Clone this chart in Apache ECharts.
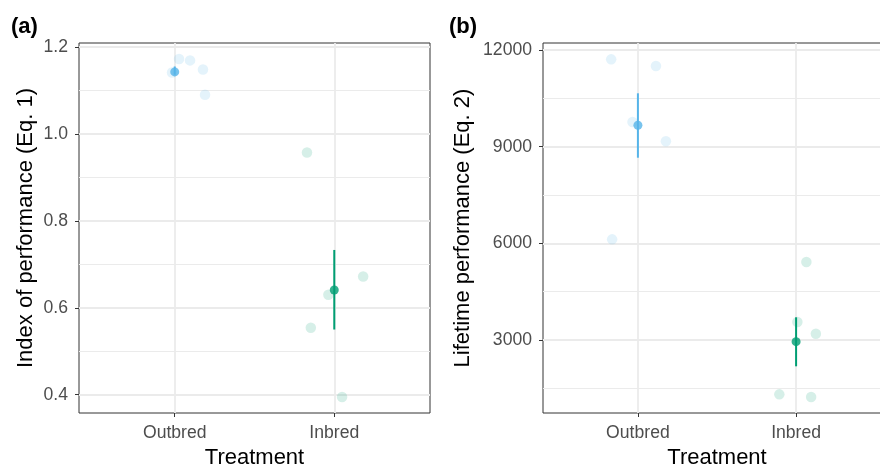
<!DOCTYPE html>
<html><head><meta charset="utf-8">
<script src="https://cdn.jsdelivr.net/npm/echarts@6/dist/echarts.min.js"></script>
<style>html,body{margin:0;padding:0;background:#fff}#c{width:880px;height:468px}</style>
</head><body><div id="c"></div>
<script>
// ---- data ----
const categories = ['Outbred', 'Inbred'];
const categoryPos = [1, 2];
const xRange = [0.4, 2.6];
const groupColors = ['#56B4E9', '#009E73'];
const rawColors = ['rgba(86,180,233,0.2)', 'rgba(0,158,115,0.2)'];

// Panel (a): Index of performance (Eq. 1)
const outbredXA = [0.983, 1.027, 1.096, 1.177, 1.190];
const outbredYA = [1.141, 1.172, 1.169, 1.148, 1.090];
const inbredXA = [1.829, 1.963, 1.853, 2.181, 2.049];
const inbredYA = [0.957, 0.630, 0.554, 0.672, 0.395];
const meanA = [1.1425, 0.641];
const lowA = [1.136, 0.550];
const highA = [1.155, 0.733];
const yTicksA = [0.4, 0.6, 0.8, 1.0, 1.2];
const yMinorA = [0.5, 0.7, 0.9, 1.1];
const yRangeA = [0.358, 1.209];

// Panel (b): Lifetime performance (Eq. 2)
const outbredXB = [0.831, 1.114, 0.966, 1.177, 0.837];
const outbredYB = [11710, 11503, 9766, 9167, 6124];
const inbredXB = [2.065, 2.008, 2.125, 1.894, 2.095];
const inbredYB = [5420, 3559, 3196, 1314, 1231];
const meanB = [9664, 2948];
const lowB = [8657, 2184];
const highB = [10656, 3704];
const yTicksB = [3000, 6000, 9000, 12000];
const yMinorB = [1500, 4500, 7500, 10500];
const yRangeB = [735, 12217];

// ---- chart ----
const FONT = '"Liberation Sans", Arial, sans-serif';
const chart = echarts.init(document.getElementById('c'), null, {renderer: 'canvas'});

function zip(xs, ys) { return xs.map((x, i) => [x, ys[i]]); }

function gridLines(idx, majorY, minorY) {
  const lines = [];
  minorY.forEach(v => lines.push({yAxis: v, lineStyle: {color: '#EBEBEB', width: 1, type: 'solid'}}));
  majorY.forEach(v => lines.push({yAxis: v, lineStyle: {color: '#EBEBEB', width: 1.8, type: 'solid'}}));
  categoryPos.forEach(v => lines.push({xAxis: v, lineStyle: {color: '#EBEBEB', width: 1.8, type: 'solid'}}));
  return {
    type: 'scatter', xAxisIndex: idx, yAxisIndex: idx, data: [], silent: true, z: 0,
    markLine: {silent: true, z: 0, symbol: 'none', label: {show: false}, animation: false, data: lines}
  };
}

function panelSeries(idx, oX, oY, iX, iY, mean, low, high) {
  return [
    gridLines(idx, idx === 0 ? yTicksA : yTicksB, idx === 0 ? yMinorA : yMinorB),
    {
      type: 'scatter', xAxisIndex: idx, yAxisIndex: idx, symbolSize: 10.5, z: 2,
      itemStyle: {color: rawColors[0]}, data: zip(oX, oY)
    },
    {
      type: 'scatter', xAxisIndex: idx, yAxisIndex: idx, symbolSize: 10.5, z: 2,
      itemStyle: {color: rawColors[1]}, data: zip(iX, iY)
    },
    {
      type: 'custom', xAxisIndex: idx, yAxisIndex: idx, z: 3,
      renderItem: function (params, api) {
        const x = api.value(0);
        const p1 = api.coord([x, api.value(1)]);
        const p2 = api.coord([x, api.value(2)]);
        return {type: 'line', shape: {x1: p1[0], y1: p1[1], x2: p2[0], y2: p2[1]},
                style: {stroke: groupColors[params.dataIndex], lineWidth: 2}};
      },
      data: categoryPos.map((c, i) => [c, low[i], high[i]])
    },
    {
      type: 'scatter', xAxisIndex: idx, yAxisIndex: idx, symbolSize: 9, z: 4,
      data: categoryPos.map((c, i) => ({value: [c, mean[i]], itemStyle: {color: groupColors[i]}}))
    }
  ];
}

function xAxis(idx) {
  return {
    type: 'value', gridIndex: idx, min: xRange[0], max: xRange[1],
    name: 'Treatment', nameLocation: 'middle', nameGap: 34,
    nameTextStyle: {fontFamily: FONT, fontSize: 22, color: '#000'},
    axisLine: {show: false},
    axisTick: {show: true, length: 4, lineStyle: {color: '#333', width: 1}, customValues: categoryPos},
    axisLabel: {customValues: categoryPos, margin: 11, fontFamily: FONT, fontSize: 17.6, color: '#4D4D4D',
      formatter: v => categories[categoryPos.indexOf(Math.round(v))] || ''},
    splitLine: {show: false}
  };
}

function yAxis(idx, range, ticks, name, gap, dec) {
  return {
    type: 'value', gridIndex: idx, min: range[0], max: range[1],
    name: name, nameLocation: 'middle', nameGap: gap, nameRotate: 90,
    nameTextStyle: {fontFamily: FONT, fontSize: 22, color: '#000'},
    axisLine: {show: false},
    axisTick: {show: true, length: 4, lineStyle: {color: '#333', width: 1}, customValues: ticks},
    axisLabel: {customValues: ticks, margin: 11, fontFamily: FONT, fontSize: 17.6, color: '#4D4D4D',
      formatter: v => v.toFixed(dec)},
    splitLine: {show: false}
  };
}

chart.setOption({
  animation: false,
  backgroundColor: '#fff',
  grid: [
    {left: 79, top: 43, width: 351, height: 370, show: true, borderColor: '#333', borderWidth: 1,
     backgroundColor: 'transparent', outerBoundsMode: 'none', containLabel: false},
    {left: 543, top: 43, width: 348, height: 370, show: true, borderColor: '#333', borderWidth: 1,
     backgroundColor: 'transparent', outerBoundsMode: 'none', containLabel: false}
  ],
  xAxis: [xAxis(0), xAxis(1)],
  yAxis: [
    yAxis(0, yRangeA, yTicksA, 'Index of performance (Eq. 1)', 42, 1),
    yAxis(1, yRangeB, yTicksB, 'Lifetime performance (Eq. 2)', 69, 0)
  ],
  graphic: [
    {type: 'text', left: 11, top: 16, style: {text: '(a)', fontFamily: FONT, fontSize: 22, fontWeight: 'bold', fill: '#000'}},
    {type: 'text', left: 449, top: 16, style: {text: '(b)', fontFamily: FONT, fontSize: 22, fontWeight: 'bold', fill: '#000'}}
  ],
  series: [
    ...panelSeries(0, outbredXA, outbredYA, inbredXA, inbredYA, meanA, lowA, highA),
    ...panelSeries(1, outbredXB, outbredYB, inbredXB, inbredYB, meanB, lowB, highB)
  ]
});
</script></body></html>
